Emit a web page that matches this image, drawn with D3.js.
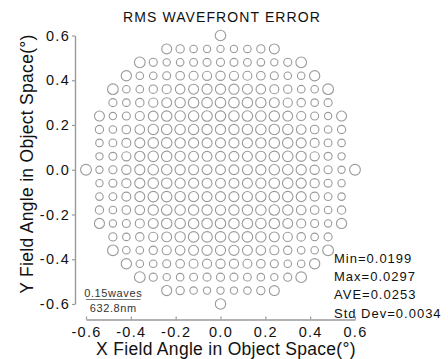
<!DOCTYPE html>
<html>
<head>
<meta charset="utf-8">
<script src="https://cdn.jsdelivr.net/npm/d3@7"></script>
<style>
  html, body { margin: 0; padding: 0; background: #fff; }
  svg { display: block; font-family: "Liberation Sans", Arial, sans-serif; }
</style>
</head>
<body>
<svg id="chart" width="448" height="359"></svg>
<script>
// field grid: rows of field points, 0.06 deg apart
const fieldStep = 0.06;
const rowY = [0.6, 0.54, 0.48, 0.42, 0.36, 0.3, 0.24, 0.18, 0.12, 0.06, 0,
              -0.06, -0.12, -0.18, -0.24, -0.3, -0.36, -0.42, -0.48, -0.54, -0.6];
const rowXMax = [0, 0.24, 0.36, 0.42, 0.48, 0.48, 0.54, 0.54, 0.54, 0.54, 0.6,
                 0.54, 0.54, 0.54, 0.54, 0.48, 0.48, 0.42, 0.36, 0.24, 0];

// RMS wavefront error (waves) per field point, row by row, left to right
const rmsRows = [
  [0.0290],
  [0.0275, 0.0227, 0.0206, 0.0200, 0.0199, 0.0200, 0.0206, 0.0227, 0.0275],
  [0.0295, 0.0222, 0.0201, 0.0208, 0.0215, 0.0220, 0.0222, 0.0220, 0.0215, 0.0208, 0.0201, 0.0222, 0.0295],
  [0.0283, 0.0206, 0.0207, 0.0220, 0.0236, 0.0247, 0.0253, 0.0255, 0.0253, 0.0247, 0.0236, 0.0220, 0.0207, 0.0206, 0.0283],
  [0.0295, 0.0206, 0.0209, 0.0229, 0.0249, 0.0264, 0.0274, 0.0279, 0.0280, 0.0279, 0.0274, 0.0264, 0.0249, 0.0229, 0.0209, 0.0206, 0.0295],
  [0.0222, 0.0207, 0.0232, 0.0253, 0.0272, 0.0284, 0.0289, 0.0290, 0.0290, 0.0290, 0.0289, 0.0284, 0.0272, 0.0253, 0.0232, 0.0207, 0.0222],
  [0.0275, 0.0201, 0.0220, 0.0249, 0.0272, 0.0287, 0.0290, 0.0289, 0.0288, 0.0287, 0.0288, 0.0289, 0.0290, 0.0287, 0.0272, 0.0249, 0.0220, 0.0201, 0.0275],
  [0.0227, 0.0208, 0.0236, 0.0264, 0.0284, 0.0290, 0.0288, 0.0284, 0.0281, 0.0280, 0.0281, 0.0284, 0.0288, 0.0290, 0.0284, 0.0264, 0.0236, 0.0208, 0.0227],
  [0.0206, 0.0215, 0.0247, 0.0274, 0.0289, 0.0289, 0.0284, 0.0279, 0.0276, 0.0275, 0.0276, 0.0279, 0.0284, 0.0289, 0.0289, 0.0274, 0.0247, 0.0215, 0.0206],
  [0.0200, 0.0220, 0.0253, 0.0279, 0.0290, 0.0288, 0.0281, 0.0276, 0.0272, 0.0271, 0.0272, 0.0276, 0.0281, 0.0288, 0.0290, 0.0279, 0.0253, 0.0220, 0.0200],
  [0.0297, 0.0200, 0.0222, 0.0255, 0.0280, 0.0290, 0.0287, 0.0280, 0.0275, 0.0271, 0.0270, 0.0271, 0.0275, 0.0280, 0.0287, 0.0290, 0.0280, 0.0255, 0.0222, 0.0200, 0.0295],
  [0.0200, 0.0220, 0.0253, 0.0279, 0.0290, 0.0288, 0.0281, 0.0276, 0.0272, 0.0271, 0.0272, 0.0276, 0.0281, 0.0288, 0.0290, 0.0279, 0.0253, 0.0220, 0.0200],
  [0.0208, 0.0215, 0.0247, 0.0274, 0.0289, 0.0289, 0.0284, 0.0279, 0.0276, 0.0275, 0.0276, 0.0279, 0.0284, 0.0289, 0.0289, 0.0274, 0.0247, 0.0215, 0.0206],
  [0.0230, 0.0208, 0.0236, 0.0264, 0.0284, 0.0290, 0.0288, 0.0284, 0.0281, 0.0280, 0.0281, 0.0284, 0.0288, 0.0290, 0.0284, 0.0264, 0.0236, 0.0208, 0.0230],
  [0.0277, 0.0201, 0.0220, 0.0249, 0.0272, 0.0287, 0.0290, 0.0289, 0.0288, 0.0287, 0.0288, 0.0289, 0.0290, 0.0287, 0.0272, 0.0249, 0.0220, 0.0201, 0.0280],
  [0.0224, 0.0207, 0.0232, 0.0253, 0.0272, 0.0284, 0.0289, 0.0290, 0.0290, 0.0290, 0.0289, 0.0284, 0.0272, 0.0253, 0.0232, 0.0207, 0.0222],
  [0.0295, 0.0206, 0.0209, 0.0229, 0.0249, 0.0264, 0.0274, 0.0279, 0.0280, 0.0279, 0.0274, 0.0264, 0.0249, 0.0229, 0.0209, 0.0206, 0.0295],
  [0.0283, 0.0206, 0.0207, 0.0220, 0.0236, 0.0247, 0.0253, 0.0255, 0.0253, 0.0247, 0.0236, 0.0220, 0.0207, 0.0206, 0.0283],
  [0.0295, 0.0222, 0.0201, 0.0208, 0.0215, 0.0220, 0.0222, 0.0220, 0.0215, 0.0208, 0.0201, 0.0222, 0.0293],
  [0.0278, 0.0227, 0.0206, 0.0200, 0.0200, 0.0200, 0.0206, 0.0227, 0.0275],
  [0.0288]
];

const axisTicks = [-0.6, -0.4, -0.2, 0, 0.2, 0.4, 0.6];
const statLabels = ["Min=0.0199", "Max=0.0297", "AVE=0.0253", "Std Dev=0.0034"];
const scaleWaves = 0.15;
const scaleLabels = ["0.15waves", "632.8nm"];

const svg = d3.select("#chart");
svg.append("rect").attr("width", 448).attr("height", 359).attr("fill", "#fff");

const x = d3.scaleLinear().domain([-0.6, 0.6]).range([86, 355]);
const y = d3.scaleLinear().domain([-0.6, 0.6]).range([304, 35.5]);
// circle diameter in px, same scale as the 0.15 waves bar
const diam = d3.scaleLinear().domain([0, scaleWaves]).range([0, 54.5]);

const points = [];
rowY.forEach((fy, r) => {
    rmsRows[r].forEach((v, i) => {
        points.push({ fx: +(-rowXMax[r] + i * fieldStep).toFixed(2), fy: fy, v: v });
    });
});

const gridColor = "#9a9a9a";

// axes
const yAxis = d3.axisLeft(y).tickValues(axisTicks).tickSizeInner(3).tickSizeOuter(0)
    .tickPadding(2).tickFormat(d => d.toFixed(1));
const gy = svg.append("g").attr("transform", "translate(75,0)").call(yAxis);

const xAxis = d3.axisBottom(x).tickValues(axisTicks).tickSizeInner(-3).tickSizeOuter(0)
    .tickPadding(7).tickFormat(d => d.toFixed(1));
const gx = svg.append("g").attr("transform", "translate(0,319.5)").call(xAxis);

[gx, gy].forEach(g => {
    g.select(".domain").attr("stroke", gridColor).attr("stroke-width", 1.4);
    g.selectAll(".tick line").attr("stroke", gridColor).attr("stroke-width", 1.2);
    g.selectAll(".tick text")
        .attr("fill", "#111")
        .style("font-size", "14.5px")
        .style("letter-spacing", "1.3px")
        .style("font-family", "Liberation Sans, Arial, sans-serif");
});

// field point circles
svg.append("g").selectAll("circle")
    .data(points)
    .enter()
    .append("circle")
    .attr("cx", d => x(d.fx))
    .attr("cy", d => y(d.fy))
    .attr("r", d => diam(d.v) / 2)
    .attr("fill", "none")
    .attr("stroke", gridColor)
    .attr("stroke-width", 1.1);

// title
svg.append("text")
    .attr("x", 222).attr("y", 22)
    .attr("text-anchor", "middle")
    .attr("fill", "#111")
    .style("font-size", "14px")
    .style("letter-spacing", "1.1px")
    .text("RMS WAVEFRONT ERROR");

// axis titles
svg.append("text")
    .attr("x", 226).attr("y", 355)
    .attr("text-anchor", "middle")
    .attr("fill", "#111")
    .style("font-size", "17.5px")
    .style("letter-spacing", "0.3px")
    .text("X Field Angle in Object Space(°)");

svg.append("text")
    .attr("transform", "translate(33,164) rotate(-90)")
    .attr("text-anchor", "middle")
    .attr("fill", "#111")
    .style("font-size", "17.5px")
    .style("letter-spacing", "0.3px")
    .text("Y Field Angle in Object Space(°)");

// stats block
svg.append("g").selectAll("text")
    .data(statLabels)
    .enter()
    .append("text")
    .attr("x", 334)
    .attr("y", (d, i) => 263 + i * 18.2)
    .attr("fill", "#111")
    .style("font-size", "13px")
    .style("letter-spacing", "1px")
    .text(d => d);

// scale bar
const barX0 = 86;
const barY = 299.5;
const barW = diam(scaleWaves);
svg.append("line")
    .attr("x1", barX0).attr("x2", barX0 + barW)
    .attr("y1", barY).attr("y2", barY)
    .attr("stroke", "#777").attr("stroke-width", 1);
svg.append("g").selectAll("text")
    .data(scaleLabels)
    .enter()
    .append("text")
    .attr("x", barX0 + barW / 2)
    .attr("y", (d, i) => i === 0 ? 297 : 312)
    .attr("text-anchor", "middle")
    .attr("fill", "#333")
    .style("font-size", "11px")
    .style("letter-spacing", "0.6px")
    .text(d => d);
</script>
</body>
</html>
